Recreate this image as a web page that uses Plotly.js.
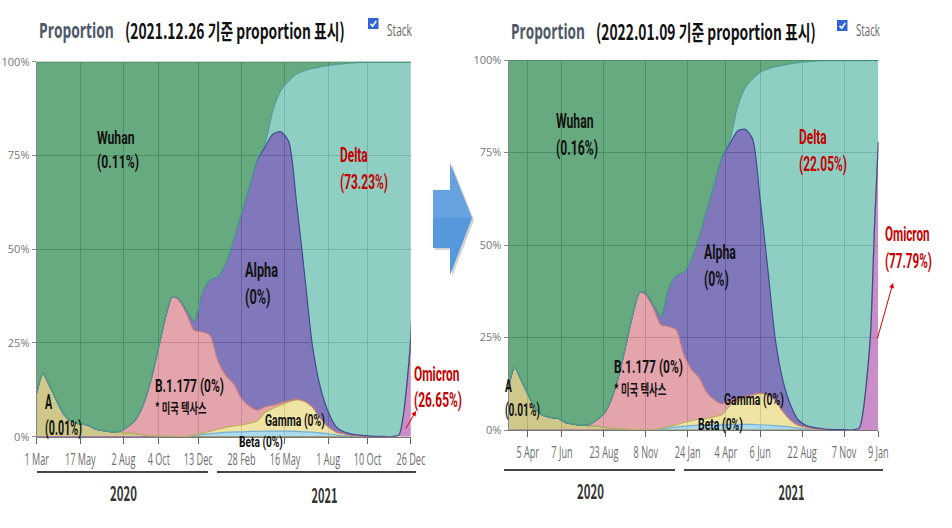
<!DOCTYPE html>
<html><head><meta charset="utf-8">
<script src="https://cdn.plot.ly/plotly-3.0.1.min.js"></script>
<style>html,body{margin:0;padding:0;background:#fff;}#chart{width:952px;height:528px;}</style>
</head><body><div id="chart"></div>
<script>
// ---- data (percent of sequences) ----
const dates = ['2020-03-01','2020-03-12','2020-03-22','2020-04-05','2020-04-19','2020-05-03','2020-05-17','2020-05-31','2020-06-14','2020-06-28','2020-07-12','2020-07-26','2020-08-09','2020-08-23','2020-09-06','2020-09-20','2020-10-04','2020-10-18','2020-10-28','2020-11-08','2020-11-22','2020-12-06','2020-12-20','2021-01-03','2021-01-17','2021-01-31','2021-02-14','2021-02-28','2021-03-14','2021-03-28','2021-04-11','2021-04-25','2021-05-09','2021-05-23','2021-06-06','2021-06-20','2021-07-04','2021-07-18','2021-08-01','2021-08-15','2021-08-29','2021-09-12','2021-09-26','2021-10-10','2021-10-24','2021-11-07','2021-11-21','2021-12-05','2021-12-12','2021-12-19','2021-12-26','2022-01-02','2022-01-09'];
const omicron = [0,0,0,0,0,0,0,0,0,0,0,0,0,0,0,0,0,0,0,0,0,0,0,0,0,0,0,0,0,0,0,0,0,0,0,0,0,0,0,0,0,0,0,0,0,0,0,0.5,5,14,26.65,55,77.79];
const lineageA = [11.6,16.9,14.2,9.8,5.8,4.0,3.4,3.1,2.0,1.6,1.3,1.2,1.0,0.8,0.5,0.3,0.2,0.1,0.1,0,0,0,0,0,0,0,0,0,0,0,0,0,0,0,0,0,0,0,0,0,0,0,0,0,0,0,0,0,0,0,0,0,0];
const beta = [0,0,0,0,0,0,0,0,0,0,0,0,0,0,0,0,0,0,0,0,0,0.3,0.6,0.8,1.0,1.2,1.3,1.3,1.4,1.4,1.5,1.5,1.5,1.5,1.4,1.3,1.2,1.0,0.8,0.5,0.3,0.2,0.1,0,0,0,0,0,0,0,0,0,0];
const gamma = [0,0,0,0,0,0,0,0,0,0,0,0,0,0,0,0,0,0,0,0,0,0.2,0.4,0.6,1.0,1.3,1.6,1.8,2.2,2.8,5.0,6.1,7.0,7.8,8.4,8.2,6.8,4.0,1.9,0.8,0.5,0.2,0.1,0,0,0,0,0,0,0,0,0,0];
const b1177 = [0,0,0,0,0,0,0,0,0,0,0,0.2,1.6,3.6,7.9,14.8,23.8,32.9,37.2,36.5,33.0,27.9,27.0,25.7,18.4,13.9,11.3,7.1,4.6,2.9,1.5,0.8,0.5,0.3,0.2,0,0,0,0,0,0,0,0,0,0,0,0,0,0,0,0,0,0];
const alpha = [0,0,0,0,0,0,0,0,0,0,0,0,0,0,0,0,0,0,0,0.5,0.8,2.3,10.3,14.7,22.3,29.8,38.2,49.4,58.5,66.7,69.3,72.3,72.3,69.1,52.3,34.1,16.4,8.3,4.0,1.4,0.5,0.3,0.2,0.2,0.1,0.1,0,0,0,0,0,0,0];
const delta = [0,0,0,0,0,0,0,0,0,0,0,0,0,0,0,0,0,0,0,0,0,0,0,0,0,0,0,0,0,0.2,0.9,6.4,11.1,16.2,34.4,54.0,73.8,85.3,92.3,96.6,98.2,99.0,99.4,99.6,99.7,99.7,99.8,99.3,94.8,85.85,73.23,44.85,22.05];
const wuhan = [88.4,83.1,85.8,90.2,94.2,96.0,96.6,96.9,98.0,98.4,98.7,98.6,97.4,95.6,91.6,84.9,76.0,67.0,62.7,63.0,66.2,69.3,61.7,58.2,57.3,53.8,47.6,40.4,33.3,26.0,21.8,12.9,7.6,5.1,3.3,2.4,1.8,1.4,1.0,0.7,0.5,0.3,0.2,0.2,0.2,0.2,0.2,0.2,0.2,0.15,0.11,0.15,0.16];

const seriesNames = ['Omicron','A','Beta','Gamma','B.1.177','Alpha','Delta','Wuhan'];
const seriesValues = [omicron, lineageA, beta, gamma, b1177, alpha, delta, wuhan];

const leftTickVals = ['2020-03-01','2020-05-17','2020-08-02','2020-10-04','2020-12-13','2021-02-28','2021-05-16','2021-08-01','2021-10-10','2021-12-26'];
const leftTickText = ['1 Mar','17 May','2 Aug','4 Oct','13 Dec','28 Feb','16 May','1 Aug','10 Oct','26 Dec'];
const rightTickVals = ['2020-04-05','2020-06-07','2020-08-23','2020-11-08','2021-01-24','2021-04-04','2021-06-06','2021-08-22','2021-11-07','2022-01-09'];
const rightTickText = ['5 Apr','7 Jun','23 Aug','8 Nov','24 Jan','4 Apr','6 Jun','22 Aug','7 Nov','9 Jan'];
const yTickVals = [0,25,50,75,100];
const yTickText = ['0%','25%','50%','75%','100%'];

// ---- styles ----
const fills = {
  'Omicron':'rgba(192,121,192,0.85)','A':'rgba(197,192,117,0.85)','Beta':'rgba(156,210,235,0.85)',
  'Gamma':'rgba(236,223,148,0.85)','B.1.177':'rgba(223,148,156,0.85)','Alpha':'rgba(106,96,175,0.85)',
  'Delta':'rgba(123,199,184,0.85)','Wuhan':'rgba(77,155,106,0.85)'};
const lines = {
  'Omicron':'#9c5aa4','A':'#9d9752','Beta':'#74b0d2','Gamma':'#bfae62','B.1.177':'#c4787f',
  'Alpha':'#3f4a8c','Delta':'#4f9f92','Wuhan':'#2f7a4e'};

const KR = '"Noto Sans CJK KR","Noto Sans",sans-serif';
const UI = '"Open Sans","Noto Sans",sans-serif';
const LB = 'Roboto,"Noto Sans CJK KR",sans-serif';

const traces = [];
[['x','y','L'],['x2','y2','R']].forEach(([xa,ya,g]) => {
  seriesNames.forEach((n,i) => {
    traces.push({
      type:'scatter', mode:'lines', name:n, x:dates, y:seriesValues[i],
      xaxis:xa, yaxis:ya, stackgroup:g, fillcolor:fills[n],
      line:{color:lines[n], width:1.2, shape:'spline', smoothing:0.7},
      hoverinfo:'skip', showlegend:false
    });
  });
});

const W=952, H=528;
const px = v => v/W, py = v => 1 - v/H;

function xAx(dom, range, tv, tt, anchor){
  return {domain:dom, anchor:anchor, type:'date', range:range, tickvals:tv, ticktext:tt, tickangle:0,
    ticks:'outside', ticklen:6, tickcolor:'#666', showgrid:true, gridcolor:'#555', gridwidth:1,
    showline:true, linecolor:'#777', zeroline:false, fixedrange:true, ticklabelstandoff:2,
    tickfont:{family:UI, size:16, color:'#6e6e6e'}};
}
function yAx(dom, anchor){
  return {domain:dom, anchor:anchor, range:[0,100], tickvals:yTickVals, ticktext:yTickText,
    ticks:'outside', ticklen:4, tickcolor:'#888', showgrid:true, gridcolor:'#555', gridwidth:1,
    showline:true, linecolor:'#888', zeroline:false, fixedrange:true,
    tickfont:{family:UI, size:11, color:'#777'}};
}

// label helper: targetW = the width the text is condensed to (the reference text is narrow)
const squeezeW = [];
const annotations = [];
function lab(text, x, y, size, targetW, color, anchor, family){
  annotations.push({text:text, xref:'paper', yref:'paper', x:px(x), y:py(y), xanchor:anchor||'left', yanchor:'middle',
    align:'left', showarrow:false, font:{family:family||LB, size:size, color:color||'#111'}});
  squeezeW.push({w:targetW, a:anchor||'left'});
}
const RED = '#c40000';
// left panel header
lab('<b>Proportion</b>', 37, 29, 22, 75, '#4d5868', 'left', UI);
lab('<b>(2021.12.26 기준 proportion 표시)</b>', 123, 30, 21, 220, '#111', 'left', KR);
lab('Stack', 385, 29, 17, 25, '#666', 'left', UI);
// right panel header
lab('<b>Proportion</b>', 509, 30, 22, 74, '#4d5868', 'left', UI);
lab('<b>(2022.01.09 기준 proportion 표시)</b>', 594, 31, 21, 220, '#111', 'left', KR);
lab('Stack', 854, 30, 17, 24, '#666', 'left', UI);
// left labels (two-line labels: y is the middle of both lines)
lab('<b>Wuhan<br>(0.11%)</b>', 95, 150, 18.5, 42);
lab('<b>Alpha<br>(0%)</b>', 243, 283.5, 20.5, 33);
lab('<b><span style="font-size:18px">B.1.177 (0%)</span><br><span style="font-family:\'Noto Sans CJK KR\';font-size:14px">* 미국 텍사스</span></b>', 153, 396, 15.8, 69);
lab('<b>A<br>(0.01%)</b>', 43, 415, 20, 37);
lab('<b>Gamma (0%)</b>', 263, 420, 17, 60); lab('<b>Beta (0%)</b>', 237, 442, 15, 44);
lab('<b>Delta<br>(73.23%)</b>', 338, 168.5, 21, 48, RED);
lab('<b>Omicron<br>(26.65%)</b>', 412, 387, 20, 48, RED);
// right labels
lab('<b>Wuhan<br>(0.16%)</b>', 554, 135, 20.5, 42);
lab('<b>Alpha<br>(0%)</b>', 702, 265.5, 20.5, 32);
lab('<b><span style="font-size:19px">B.1.177 (0%)</span><br><span style="font-family:\'Noto Sans CJK KR\';font-size:15px">* 미국 텍사스</span></b>', 612, 377, 16.9, 69);
lab('<b>A<br>(0.01%)</b>', 503, 398, 18.5, 35);
lab('<b>Gamma (0%)</b>', 722, 399, 17, 60); lab('<b>Beta (0%)</b>', 696, 424, 16, 45);
lab('<b>Delta<br>(22.05%)</b>', 797, 150, 21, 48, RED);
lab('<b>Omicron<br>(77.79%)</b>', 883, 247.5, 20.5, 47, RED);
// year labels
lab('<b>2020</b>', 123, 492, 20, 27, '#333', 'center', KR); lab('<b>2021</b>', 324, 494, 20, 26, '#333', 'center', KR);
lab('<b>2020</b>', 590, 490, 20, 27, '#333', 'center', KR); lab('<b>2021</b>', 791, 491, 20, 26, '#333', 'center', KR);
// omicron arrows
annotations.push({text:'', xref:'paper', yref:'paper', x:px(416), y:py(411), ax:-11, ay:19, showarrow:true,
   arrowhead:2, arrowsize:1, arrowwidth:1, arrowcolor:'#e00000'});
annotations.push({text:'', xref:'paper', yref:'paper', x:px(893), y:py(283), ax:-16, ay:57, showarrow:true,
   arrowhead:2, arrowsize:1, arrowwidth:1, arrowcolor:'#e00000'});

function pathP(pts){
  return 'M ' + pts.map(p => px(p[0]) + ',' + py(p[1])).join(' L ') + ' Z';
}
function hline(x0,x1,y){
  return {type:'line', xref:'paper', yref:'paper', x0:px(x0), x1:px(x1), y0:py(y), y1:py(y),
    line:{color:'#444', width:2}};
}
function checkbox(x0,y0){
  return [
    {type:'rect', xref:'paper', yref:'paper', x0:px(x0), x1:px(x0+10.5), y0:py(y0+11), y1:py(y0),
     fillcolor:'#2f63d6', line:{width:0}},
    {type:'path', xref:'paper', yref:'paper',
     path:'M '+px(x0+2.5)+','+py(y0+5.8)+' L '+px(x0+4.6)+','+py(y0+8.2)+' L '+px(x0+8.3)+','+py(y0+3),
     line:{color:'#fff', width:1.6}}
  ];
}
const arrowPts = [[433,190],[450,190],[450,163],[472,218],[450,275],[450,248],[433,248]];
const shapes = [
  {type:'path', xref:'paper', yref:'paper', path:pathP(arrowPts.map(p=>[p[0]+2,p[1]+2])),
   fillcolor:'rgba(0,0,0,0.18)', line:{width:0}},
  {type:'path', xref:'paper', yref:'paper', path:pathP(arrowPts), fillcolor:'#5598dc', line:{width:0}},
  {type:'path', xref:'paper', yref:'paper', path:pathP([[433,190],[450,190],[450,163],[472,218],[433,218]]),
   fillcolor:'rgba(255,255,255,0.10)', line:{width:0}},
  hline(37,208,472), hline(217,416,472), hline(504,675,470), hline(684,883,470),
  ...checkbox(368,18), ...checkbox(837,20)
];

const layout = {
  width:W, height:H, margin:{l:0,r:0,t:0,b:0}, paper_bgcolor:'#fff', plot_bgcolor:'#fff',
  showlegend:false, hovermode:false,
  xaxis: xAx([36.7/W, 410.8/W], ['2020-03-01','2021-12-26'], leftTickVals, leftTickText, 'y'),
  yaxis: yAx([1-436.7/H, 1-61.7/H], 'x'),
  xaxis2: xAx([508.6/W, 878.3/W], ['2020-03-01','2022-01-09'], rightTickVals, rightTickText, 'y2'),
  yaxis2: yAx([1-430/H, 1-60/H], 'x2'),
  annotations:annotations, shapes:shapes
};

function condense(t, s, mode){
  const b = t.getBBox();
  if (!b.width) return;
  const ax = mode === 'center' ? b.x + b.width/2 : b.x;
  const prev = t.getAttribute('transform') || '';
  t.setAttribute('transform', prev + ' translate(' + ax + ',0) scale(' + s + ',1) translate(' + (-ax) + ',0)');
}
Plotly.newPlot('chart', traces, layout, {displayModeBar:false, staticPlot:true}).then(gd => {
  gd.querySelectorAll('g.annotation').forEach(g => {
    const i = +g.getAttribute('data-index');
    const info = squeezeW[i];
    if (!info || !info.w) return;
    const t = g.querySelector('text');
    if (!t) return;
    const b = t.getBBox();
    condense(t, Math.min(1, info.w / b.width), info.a);
  });
  gd.querySelectorAll('g.xtick text, g.x2tick text').forEach(t => condense(t, 0.57, 'center'));
});
</script></body></html>
